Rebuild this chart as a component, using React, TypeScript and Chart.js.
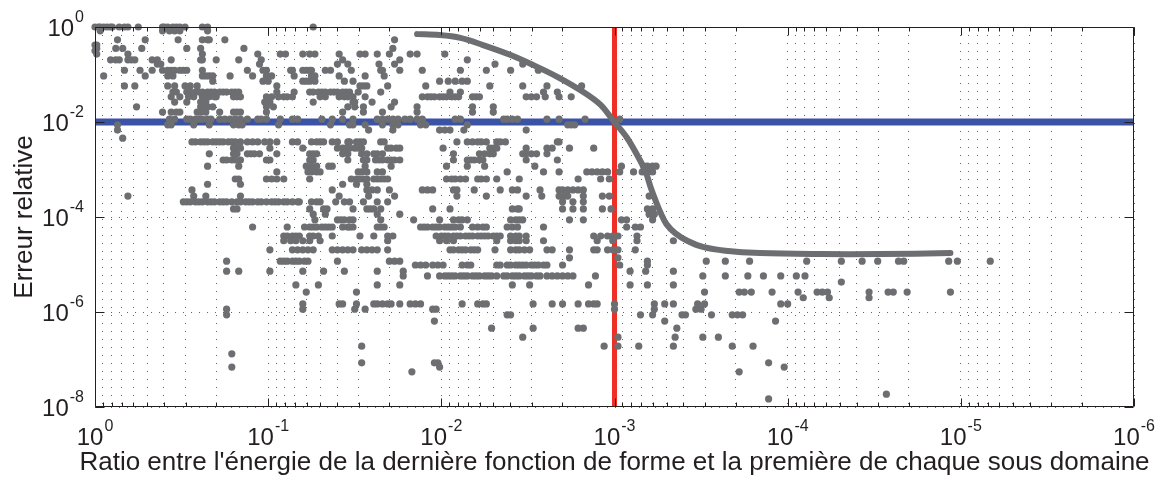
import React, { useEffect, useRef } from 'react';
import { Chart, registerables } from 'chart.js';

Chart.register(...registerables);

// ---- Axis definitions (exponents of 10) ----
const xDecadeExps = [0, -1, -2, -3, -4, -5, -6];
const yDecadeExps = [0, -2, -4, -6, -8];
const minorMultipliers = [2, 3, 4, 5, 6, 7, 8, 9];

const xTitle = "Ratio entre l'énergie de la dernière fonction de forme et la première de chaque sous domaine";
const yTitle = 'Erreur relative';

// ---- Threshold lines ----
const thresholdRatio = 1e-3;
const thresholdError = 1e-2;

// ---- Fitted curve (log10 ratio, log10 error) ----
const curveRatioExp = [-1.86, -1.99, -2.11, -2.24, -2.40, -2.53, -2.67, -2.82, -2.92, -2.99, -3.07, -3.13, -3.18, -3.21, -3.24, -3.27, -3.30, -3.35, -3.42, -3.51, -3.64, -3.84, -4.19, -4.53, -4.94];
const curveErrorExp = [-0.15, -0.17, -0.23, -0.38, -0.59, -0.80, -1.05, -1.37, -1.64, -1.96, -2.32, -2.69, -3.05, -3.39, -3.68, -3.94, -4.15, -4.34, -4.50, -4.63, -4.71, -4.76, -4.78, -4.78, -4.76];

// ---- Scatter samples, rows of [log10 error, log10 ratios...] ----
const rowsHigh: [number, number[]][] = [
  [0.00, [0, -0.02, -0.03, -0.05, -0.07, -0.09, -0.10, -0.14, -0.17, -0.19, -0.25, -0.39, -0.40, -0.42, -0.45, -0.47, -0.49, -0.52, -0.62, -0.65, -1.26]],
  [-0.08, [-0.03, -0.39, -0.43, -0.46, -0.49, -0.65]],
  [-0.27, [-0.13, -0.29, -0.48, -0.62, -0.65, -0.66, -0.75, -1.73]],
  [-0.38, [0, -0.01]],
  [-0.45, [-0.01, -0.12, -0.16, -0.27, -0.53, -0.61, -0.86, -1.72]],
  [-0.50, [0]],
  [-0.57, [-0.01, -0.19, -0.62, -0.94, -1.07, -1.10, -1.20, -1.24, -1.27, -1.41, -1.53, -1.56, -1.63, -1.70, -1.82, -1.86, -2.02]],
  [-0.69, [-0.09, -0.12, -0.14, -0.19, -0.21, -0.23, -0.33, -0.36, -0.44, -0.61, -0.62, -0.70, -0.83, -0.96, -1.43, -1.76, -2.15]],
  [-0.78, [-0.36, -0.38, -0.95, -1.40, -1.46, -1.64, -1.73, -2.31, -2.47]],
  [-0.91, [-0.17, -0.26, -0.33, -0.39, -0.42, -0.44, -0.46, -0.49, -0.51, -0.53, -0.62, -0.88, -0.97, -0.99, -1.13, -1.14, -1.20, -1.22, -1.24, -1.25, -1.33, -1.36, -1.48, -1.65, -1.66, -1.76, -1.89, -2.11, -2.26, -2.40, -2.56]],
  [-1.03, [-0.05, -0.29, -0.42, -0.45, -0.62, -0.64, -0.66, -0.68, -0.78, -0.91, -0.99, -1.02, -1.15, -1.25, -1.27, -1.41, -1.56, -1.67]],
  [-1.14, [-0.68, -0.97, -1.00, -1.20, -1.22, -1.24, -1.27, -1.44, -1.49, -1.99, -2.04, -2.08, -2.12, -2.15]],
  [-1.24, [-0.17, -0.23, -0.42, -0.46, -0.52, -0.55, -0.59, -1.05, -1.53, -1.57, -1.55, -1.69, -1.91, -2.28, -2.47, -2.61, -2.81]],
  [-1.37, [-0.45, -0.47, -0.53, -0.55, -0.58, -0.60, -0.62, -0.65, -0.67, -0.69, -0.72, -0.74, -0.76, -0.79, -0.81, -0.83, -1.05, -1.15, -1.24, -1.26, -1.29, -1.31, -1.33, -1.36, -1.38, -1.40, -1.43, -1.45, -1.47, -1.52, -1.65, -2.05, -2.11, -2.59, -2.67]],
  [-1.47, [-0.44, -0.49, -0.54, -0.57, -0.62, -0.64, -0.66, -0.69, -0.70, -0.80, -0.82, -0.84, -0.99, -1.02, -1.06, -1.09, -1.11, -1.14, -1.30, -1.33, -1.41, -1.44, -1.46, -1.49, -1.56, -1.89, -1.92, -1.94, -1.96, -1.99, -2.01, -2.03, -2.06, -2.08, -2.10, -2.18, -2.20, -2.22, -2.49, -2.52, -2.55, -2.60, -2.68, -2.75]],
  [-1.58, [-0.46, -0.53, -0.61, -0.64, -0.98, -1.01, -1.26, -1.49, -1.50, -1.60, -1.73]],
  [-1.68, [-0.24, -0.61, -0.63, -0.65, -0.68, -0.99, -1.03, -1.46, -1.50, -1.55, -1.71, -1.86, -2.18, -2.30]],
  [-1.79, [-0.39, -0.44, -0.47, -0.49, -0.59, -0.61, -0.64, -0.72, -0.80, -0.82, -0.84, -0.99, -1.43, -1.55, -1.66, -1.86, -2.18, -2.30]],
  [-1.94, [-0.43, -0.46, -0.53, -0.55, -0.58, -0.60, -0.62, -0.65, -0.67, -0.72, -0.75, -0.78, -0.81, -0.84, -0.88, -0.94, -0.96, -0.99, -1.07, -1.14, -1.17, -1.31, -1.37, -1.43, -1.49, -1.63, -1.66, -1.69, -1.72, -1.75, -1.79, -1.82, -1.86, -1.89, -2.08, -2.11, -2.36, -2.38, -2.41, -2.44, -2.61, -2.68, -2.83, -3.03]],
  [-2.06, [-0.13, -0.42, -0.44, -0.57, -0.66, -0.80, -0.83, -0.85, -1.06, -1.36, -1.47, -1.49, -1.56, -1.66, -1.72, -1.75, -1.88, -1.91, -2.15, -2.73, -2.75, -2.77]],
  [-2.17, [-0.13, -1.58, -1.72, -1.99, -2.02, -2.05, -2.13, -2.49]],
  [-2.34, [-0.16]],
];

const rowsMiddle: [number, number[]][] = [
  [-2.42, [-0.56, -0.58, -0.61, -0.63, -0.65, -0.68, -0.70, -0.72, -0.74, -0.77, -0.79, -0.81, -0.84, -0.88, -0.91, -0.94, -0.98, -1.01, -1.05, -1.14, -1.17, -1.25, -1.28, -1.30, -1.32, -1.37, -1.40, -1.46, -1.47, -1.51, -1.53, -1.55, -1.65, -1.67, -2.09, -2.15, -2.18, -2.21, -2.23, -2.26, -2.32, -2.34, -2.37, -2.67, -2.68]],
  [-2.55, [-0.80, -0.82, -0.84, -1.01, -1.20, -1.40, -1.43, -1.45, -1.47, -1.50, -1.52, -1.54, -1.69, -1.71, -1.74, -1.76, -2.01, -2.28, -2.30, -2.32, -2.49, -2.61, -2.64, -2.74, -2.88]],
  [-2.67, [-0.66, -0.80, -0.82, -0.88, -0.90, -0.92, -0.95, -1.05, -1.24, -1.26, -1.28, -1.43, -1.46, -1.54, -1.57, -1.61, -1.63, -1.66, -2.07, -2.22, -2.25, -2.28, -2.30, -2.47, -2.49, -2.52, -2.55, -2.61]],
  [-2.80, [-0.74, -0.76, -0.79, -0.81, -0.84, -0.99, -1.01, -1.24, -1.26, -1.46, -1.55, -1.57, -1.62, -1.64, -1.66, -1.69, -1.71, -1.73, -1.76, -2.07, -2.15, -2.17, -2.19, -2.22, -2.24, -2.49, -2.67]],
  [-2.93, [-0.65, -0.83, -1.22, -1.25, -1.28, -1.35, -1.37, -1.56, -1.71, -2.03, -2.15, -2.25, -2.54, -3.04, -3.17, -3.19, -3.22, -3.24]],
  [-3.05, [-1.05, -1.23, -1.25, -1.28, -1.30, -1.52, -1.54, -1.57, -1.63, -1.66, -2.38, -2.59, -2.68, -2.84, -2.87, -2.90, -2.93, -2.96, -3.03, -3.11, -3.16, -3.19, -3.22]],
  [-3.20, [-0.81, -0.83, -0.99, -1.02, -1.05, -1.09, -1.24, -1.48, -1.51, -1.53, -1.55, -1.57, -1.61, -1.63, -1.65, -1.67, -1.69, -2.03, -2.06, -2.08, -2.11, -2.14, -2.21, -2.23, -2.26, -2.32, -2.45, -2.79, -2.92, -2.97]],
  [-3.31, [-0.65, -0.84, -1.43, -1.51, -1.57]],
  [-3.43, [-0.56, -1.37, -1.57, -1.60, -1.63, -1.70, -1.89, -1.92, -1.95, -2.07, -2.09, -2.19, -2.34, -2.41, -2.44, -2.57, -2.68, -2.70, -2.73, -2.76, -2.79, -2.82]],
  [-3.56, [-0.19, -0.57, -0.64, -0.84, -1.41, -1.58, -1.73, -2.09, -2.26, -2.49, -2.58, -2.68, -2.71, -2.73, -2.82, -2.93, -2.97, -3.20]],
  [-3.68, [-0.51, -0.53, -0.55, -0.58, -0.60, -0.62, -0.65, -0.67, -0.69, -0.72, -0.74, -0.76, -0.79, -0.82, -0.84, -0.87, -0.89, -0.91, -0.94, -0.96, -0.99, -1.02, -1.04, -1.06, -1.09, -1.11, -1.14, -1.17, -1.18, -1.25, -1.28, -1.30, -1.39, -1.44, -1.47, -1.55, -1.63, -1.69, -2.70, -2.76, -2.82]],
  [-3.83, [-0.80, -0.82, -1.24, -1.32, -1.34, -1.49, -1.57, -1.59, -1.61, -1.65, -1.95, -2.05, -2.41, -2.44, -2.45, -2.70, -2.76, -2.82, -2.93, -2.98, -3.19, -3.22]],
  [-3.94, [-1.26, -1.33, -1.63, -1.76, -3.20, -3.23]],
  [-4.06, [-1.27, -1.40, -1.42, -1.44, -1.47, -1.49, -1.65, -1.84, -1.99, -2.07, -2.10, -2.12, -2.15, -2.40, -2.43, -2.45, -2.47, -2.74, -2.82, -3.04, -3.07, -3.22]],
  [-4.21, [-0.91, -1.11, -1.21, -1.24, -1.26, -1.28, -1.31, -1.33, -1.35, -1.37, -1.43, -1.46, -1.47, -1.49, -1.63, -1.65, -1.67, -1.88, -1.90, -1.92, -1.95, -1.97, -1.99, -2.02, -2.04, -2.06, -2.08, -2.11, -2.18, -2.21, -2.24, -2.26, -2.38, -2.41, -2.44, -2.59, -3.07, -3.12, -3.15]],
  [-4.40, [-1.09, -1.11, -1.14, -1.16, -1.18, -1.24, -1.26, -1.29, -1.37, -1.53, -1.61, -1.69, -1.72, -1.97, -2.00, -2.02, -2.04, -2.07, -2.09, -2.11, -2.14, -2.16, -2.18, -2.21, -2.23, -2.25, -2.27, -2.30, -2.32, -2.34, -2.40, -2.43, -2.45, -2.49, -2.88, -2.92, -2.96, -2.99, -3.02, -3.13]],
  [-4.50, [-1.09, -1.13, -1.16, -1.20, -1.24, -1.30, -1.69, -1.99, -2.03, -2.07, -2.32, -2.40, -2.43, -2.45, -2.49, -2.59, -2.90, -2.99, -3.13, -3.34]],
];

const rowsLow: [number, number[]][] = [
  [-4.69, [-1.01, -1.14, -1.17, -1.20, -1.23, -1.26, -1.37, -1.40, -1.43, -1.46, -1.49, -1.54, -1.57, -1.60, -1.63, -1.69, -2.05, -2.07, -2.10, -2.12, -2.14, -2.17, -2.19, -2.21, -2.31, -2.40, -2.43, -2.45, -2.48, -2.51, -2.61, -2.64, -2.74, -2.88, -2.90, -2.96, -2.99, -3.02, -3.12]],
  [-4.86, [-2.74, -3.02]],
  [-4.93, [-0.76, -1.07, -1.09, -1.11, -1.14, -1.16, -1.18, -1.21, -1.23, -1.40, -1.70, -1.73, -1.76, -3.19, -3.53, -3.64, -3.78, -4.11, -4.31, -4.43, -4.52, -4.64, -4.67, -4.93, -4.98, -5.17]],
  [-5.01, [-1.85, -1.88, -1.91, -1.95, -1.98, -2.01, -2.12, -2.15, -2.17, -2.32, -2.34, -2.38, -2.40, -2.43, -2.45, -2.47, -2.49, -2.52, -2.54, -2.56, -2.59, -2.61, -2.70, -3.03, -3.19]],
  [-5.14, [-0.76, -0.83, -1.01, -1.20, -1.32, -1.44, -1.63, -1.78, -3.09, -3.18, -3.34]],
  [-5.24, [-1.78, -1.92, -1.99, -2.02, -2.04, -2.06, -2.08, -2.11, -2.13, -2.15, -2.18, -2.20, -2.22, -2.25, -2.27, -2.29, -2.32, -2.36, -2.38, -2.41, -2.43, -2.45, -2.48, -2.50, -2.52, -2.55, -2.57, -2.61, -2.64, -2.67, -2.70, -2.73, -2.76, -2.89, -3.51, -3.64, -3.77, -3.86, -3.96, -4.05, -4.10]],
  [-5.37, [-4.31]],
  [-5.43, [-1.16, -1.29, -1.63, -1.76, -2.41, -2.51, -2.85, -3.09, -3.19, -3.34]],
  [-5.58, [-1.22, -1.51, -3.52, -3.72, -3.75, -3.79, -3.91, -4.06, -4.17, -4.20, -4.23, -4.47, -4.58, -4.61, -4.69, -4.94]],
  [-5.70, [-4.09, -4.24, -4.47]],
  [-5.83, [-1.20, -1.41, -1.43, -1.51, -1.61, -1.63, -1.66, -1.69, -1.71, -1.76, -1.82, -1.85, -1.88, -2.12, -2.21, -2.24, -2.26, -2.53, -2.64, -2.70, -2.79, -2.85, -2.88, -2.90, -3.00, -3.23, -3.29, -3.34, -3.48, -3.52, -3.96, -4.00]],
  [-5.94, [-0.76, -1.20, -1.50, -1.56, -1.95, -1.97, -3.00, -3.23, -3.47, -3.50]],
  [-6.06, [-0.76, -2.38, -2.40, -3.15, -3.22, -3.39, -3.41, -3.56, -3.68, -3.71, -3.74]],
  [-6.19, [-1.96, -3.29, -3.93]],
  [-6.34, [-2.29, -2.53, -2.79, -2.82, -3.36]],
  [-6.53, [-2.47, -3.02, -3.35, -3.51, -3.60]],
  [-6.72, [-1.54, -2.94, -3.02, -3.14, -3.34, -3.68, -3.80]],
  [-6.88, [-0.79]],
  [-7.07, [-1.54, -1.96, -1.98, -3.89]],
  [-7.16, [-0.79, -1.99, -3.98]],
  [-7.26, [-1.83, -3.72]],
  [-7.73, [-4.57]],
  [-7.83, [-3.89]],
];

const TEXT = '#231f20';
const FONT = '"Liberation Sans", Arial, Helvetica, sans-serif';

const toPoints = (rows: [number, number[]][]) =>
  rows.flatMap(([ly, xs]) => xs.map((lx) => ({ x: Math.pow(10, lx), y: Math.pow(10, ly) })));

const xTickValues = (() => {
  const vals: number[] = [];
  xDecadeExps.forEach((e) => {
    vals.push(Math.pow(10, e));
    if (e > -6) minorMultipliers.forEach((m) => vals.push(m * Math.pow(10, e - 1)));
  });
  return vals.sort((a, b) => a - b);
})();

const MAIN_PX = 24;
const SUP_PX = 16;

const drawPower = (ctx: CanvasRenderingContext2D, exp: number, left: number, baseline: number) => {
  ctx.font = `${MAIN_PX}px ${FONT}`;
  const w1 = ctx.measureText('10').width;
  ctx.textAlign = 'left';
  ctx.textBaseline = 'alphabetic';
  ctx.fillText('10', left, baseline);
  ctx.font = `${SUP_PX}px ${FONT}`;
  ctx.fillText(String(exp), left + w1 + 1, baseline - 14);
};
const powerWidth = (ctx: CanvasRenderingContext2D, exp: number) => {
  ctx.font = `${MAIN_PX}px ${FONT}`;
  const w1 = ctx.measureText('10').width;
  ctx.font = `${SUP_PX}px ${FONT}`;
  return w1 + 1 + ctx.measureText(String(exp)).width;
};

const framePlugin = {
  id: 'matlabFrame',
  afterDatasetsDraw(chart: any) {
    const { ctx, chartArea: a, scales } = chart;
    const xs = scales.x;
    const ys = scales.y;
    ctx.save();
    ctx.strokeStyle = TEXT;
    ctx.lineWidth = 1;
    const L = Math.round(a.left) + 0.5;
    const R = Math.round(a.right) - 0.5;
    const T = Math.round(a.top) + 0.5;
    const B = Math.round(a.bottom) - 0.5;
    ctx.beginPath();
    ctx.rect(L, T, R - L, B - T);
    xTickValues.forEach((v) => {
      const px = Math.round(xs.getPixelForValue(v)) + 0.5;
      const major = Math.abs(Math.log10(v) - Math.round(Math.log10(v))) < 1e-9;
      const len = major ? 8 : 4;
      ctx.moveTo(px, B);
      ctx.lineTo(px, B - len);
      ctx.moveTo(px, T);
      ctx.lineTo(px, T + len);
    });
    yDecadeExps.forEach((e) => {
      const py = Math.round(ys.getPixelForValue(Math.pow(10, e))) + 0.5;
      ctx.moveTo(L, py);
      ctx.lineTo(L + 9, py);
      ctx.moveTo(R, py);
      ctx.lineTo(R - 9, py);
    });
    ctx.stroke();

    ctx.fillStyle = TEXT;
    xDecadeExps.forEach((e) => {
      const px = xs.getPixelForValue(Math.pow(10, e));
      const w = powerWidth(ctx, e);
      drawPower(ctx, e, px - w / 2, a.bottom + 38);
    });
    yDecadeExps.forEach((e) => {
      const py = ys.getPixelForValue(Math.pow(10, e));
      const w = powerWidth(ctx, e);
      drawPower(ctx, e, a.left - 11 - w, py + 9);
    });
    ctx.font = `26px ${FONT}`;
    ctx.textAlign = 'center';
    ctx.textBaseline = 'alphabetic';
    ctx.fillText(xTitle, (a.left + a.right) / 2, a.bottom + 63);
    ctx.save();
    ctx.translate(32, (a.top + a.bottom) / 2);
    ctx.rotate(-Math.PI / 2);
    ctx.fillText(yTitle, 0, 0);
    ctx.restore();
    ctx.restore();
  },
};

export default function App() {
  const canvasRef = useRef<HTMLCanvasElement | null>(null);

  useEffect(() => {
    document.body.style.margin = '0';
    const canvas = canvasRef.current;
    if (!canvas) return;
    const scatterPoints = [...toPoints(rowsHigh), ...toPoints(rowsMiddle), ...toPoints(rowsLow)];
    const curvePoints = curveRatioExp.map((lx, i) => ({ x: Math.pow(10, lx), y: Math.pow(10, curveErrorExp[i]) }));

    const gridColor = 'rgba(35,31,32,0.7)';
    const chart = new Chart(canvas, {
      type: 'scatter',
      data: {
        datasets: [
          {
            label: 'courbe',
            data: curvePoints,
            showLine: true,
            borderColor: '#6d6e71',
            borderWidth: 6,
            borderCapStyle: 'round',
            borderJoinStyle: 'round',
            pointRadius: 0,
            tension: 0.35,
            order: 0,
          } as any,
          {
            label: 'erreurs',
            data: scatterPoints,
            showLine: false,
            pointRadius: 3.6,
            pointBorderWidth: 0,
            pointBackgroundColor: '#6d6e71',
            backgroundColor: '#6d6e71',
            borderColor: '#6d6e71',
            clip: false,
            order: 1,
          } as any,
          {
            label: 'seuil ratio',
            data: [
              { x: thresholdRatio, y: 1 },
              { x: thresholdRatio, y: 1e-8 },
            ],
            showLine: true,
            borderColor: '#ed2f26',
            borderWidth: 5,
            pointRadius: 0,
            order: 2,
          } as any,
          {
            label: 'seuil erreur',
            data: [
              { x: 1, y: thresholdError },
              { x: 1e-6, y: thresholdError },
            ],
            showLine: true,
            borderColor: '#3a53a4',
            borderWidth: 7,
            pointRadius: 0,
            order: 3,
          } as any,
        ],
      },
      options: {
        animation: false,
        responsive: true,
        maintainAspectRatio: false,
        devicePixelRatio: 1,
        layout: { padding: { top: 27, right: 27, left: 0, bottom: 0 } },
        plugins: { legend: { display: false }, tooltip: { enabled: false } },
        events: [],
        scales: {
          x: {
            type: 'logarithmic',
            min: 1e-6,
            max: 1,
            reverse: true,
            afterBuildTicks: (scale: any) => {
              scale.ticks = xTickValues.map((v) => ({ value: v }));
            },
            afterFit: (scale: any) => {
              scale.height = 72;
            },
            ticks: { display: false },
            grid: { color: gridColor, lineWidth: 1, drawTicks: false },
            border: { display: false, dash: [1, 7] },
          },
          y: {
            type: 'logarithmic',
            min: 1e-8,
            max: 1,
            afterBuildTicks: (scale: any) => {
              scale.ticks = yDecadeExps.map((e) => ({ value: Math.pow(10, e) }));
            },
            afterFit: (scale: any) => {
              scale.width = 95;
            },
            ticks: { display: false },
            grid: { color: gridColor, lineWidth: 1, drawTicks: false },
            border: { display: false, dash: [1, 7] },
          },
        },
      } as any,
      plugins: [framePlugin],
    });
    return () => chart.destroy();
  }, []);

  return (
    <div style={{ position: 'fixed', left: 0, top: 0, width: 1161, height: 479, background: '#fff' }}>
      <canvas ref={canvasRef} />
    </div>
  );
}
